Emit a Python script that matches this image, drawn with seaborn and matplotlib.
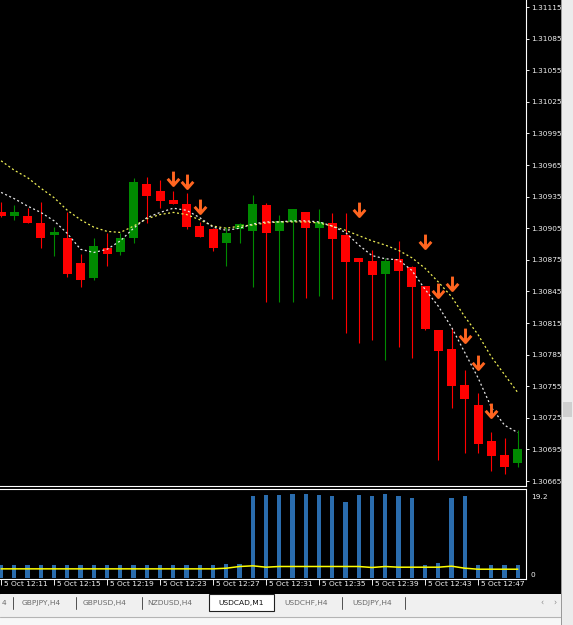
import numpy as np
import pandas as pd
import seaborn as sns
import matplotlib.pyplot as plt
import matplotlib.transforms as mtrans
from matplotlib.path import Path
from matplotlib.markers import MarkerStyle
from matplotlib.patches import Rectangle

# ---- data (USDCAD M1, 5 Oct 12:11 - 12:50) ----
opens = [1.30920, 1.30917, 1.30917, 1.30910, 1.30899, 1.30896, 1.30872, 1.30858, 1.30886, 1.30882,
         1.30896, 1.30947, 1.30940, 1.30932, 1.30928, 1.30907, 1.30904, 1.30891, 1.30904, 1.30902,
         1.30927, 1.30902, 1.30911, 1.30920, 1.30905, 1.30910, 1.30899, 1.30877, 1.30874, 1.30862,
         1.30876, 1.30868, 1.30850, 1.30808, 1.30790, 1.30756, 1.30737, 1.30703, 1.30690, 1.30682]
highs = [1.30930, 1.30927, 1.30924, 1.30930, 1.30906, 1.30920, 1.30881, 1.30896, 1.30900, 1.30900,
         1.30953, 1.30954, 1.30951, 1.30940, 1.30938, 1.30911, 1.30905, 1.30906, 1.30910, 1.30937,
         1.30929, 1.30918, 1.30923, 1.30920, 1.30923, 1.30919, 1.30919, 1.30877, 1.30884, 1.30877,
         1.30893, 1.30869, 1.30850, 1.30808, 1.30810, 1.30770, 1.30749, 1.30712, 1.30706, 1.30713]
lows = [1.30916, 1.30913, 1.30910, 1.30886, 1.30879, 1.30859, 1.30849, 1.30856, 1.30869, 1.30880,
        1.30891, 1.30910, 1.30924, 1.30928, 1.30904, 1.30897, 1.30883, 1.30869, 1.30891, 1.30849,
        1.30835, 1.30835, 1.30835, 1.30839, 1.30841, 1.30838, 1.30806, 1.30796, 1.30799, 1.30780,
        1.30792, 1.30782, 1.30808, 1.30685, 1.30734, 1.30692, 1.30692, 1.30675, 1.30672, 1.30678]
closes = [1.30917, 1.30920, 1.30910, 1.30896, 1.30901, 1.30862, 1.30856, 1.30888, 1.30881, 1.30896,
          1.30949, 1.30936, 1.30931, 1.30928, 1.30906, 1.30897, 1.30886, 1.30900, 1.30909, 1.30928,
          1.30900, 1.30912, 1.30923, 1.30905, 1.30911, 1.30895, 1.30873, 1.30873, 1.30861, 1.30874,
          1.30864, 1.30849, 1.30809, 1.30788, 1.30755, 1.30743, 1.30700, 1.30689, 1.30678, 1.30695]

ma_slow = [1.30969, 1.30960, 1.30953, 1.30943, 1.30934, 1.30922, 1.30913, 1.30906, 1.30902, 1.30901,
           1.30907, 1.30914, 1.30918, 1.30920, 1.30918, 1.30913, 1.30907, 1.30905, 1.30907, 1.30908,
           1.30910, 1.30911, 1.30911, 1.30911, 1.30910, 1.30907, 1.30903, 1.30898, 1.30893, 1.30889,
           1.30884, 1.30877, 1.30867, 1.30854, 1.30840, 1.30821, 1.30804, 1.30783, 1.30766, 1.30749]
ma_fast = [1.30939, 1.30933, 1.30926, 1.30920, 1.30912, 1.30900, 1.30885, 1.30882, 1.30885, 1.30893,
           1.30905, 1.30915, 1.30920, 1.30924, 1.30922, 1.30915, 1.30906, 1.30903, 1.30905, 1.30909,
           1.30911, 1.30911, 1.30912, 1.30912, 1.30911, 1.30907, 1.30901, 1.30889, 1.30879, 1.30876,
           1.30875, 1.30865, 1.30847, 1.30831, 1.30811, 1.30787, 1.30763, 1.30735, 1.30718, 1.30711]

arrow_bars = [13, 14, 15, 27, 32, 33, 34, 35, 36, 37]
arrow_prices = [1.30946, 1.30943, 1.30919, 1.30917, 1.30886, 1.30840, 1.30846, 1.30797, 1.30771, 1.30726]

volumes = [3.1, 3.1, 3.1, 3.1, 3.1, 3.1, 3.1, 3.1, 3.1, 3.1,
           3.1, 3.1, 3.1, 3.1, 3.1, 3.1, 3.1, 3.3, 3.3, 18.8,
           19.0, 19.0, 19.2, 19.2, 19.0, 18.7, 17.3, 19.0, 18.7, 19.2,
           18.8, 18.4, 3.1, 3.5, 18.4, 18.8, 3.1, 3.1, 3.1, 3.1]
vol_signal = [2.15, 2.15, 2.15, 2.15, 2.15, 2.15, 2.15, 2.15, 2.15, 2.15,
              2.15, 2.15, 2.15, 2.15, 2.15, 2.15, 2.15, 2.30, 2.69, 2.84,
              2.53, 2.69, 2.69, 2.69, 2.69, 2.69, 2.69, 2.69, 2.46, 2.69,
              2.53, 2.53, 2.53, 2.53, 2.76, 2.30, 2.07, 2.07, 2.07, 2.07]

price_ticks = [1.30665, 1.30695, 1.30725, 1.30755, 1.30785, 1.30815, 1.30845, 1.30875,
               1.30905, 1.30935, 1.30965, 1.30995, 1.31025, 1.31055, 1.31085, 1.31115]
time_bars = [0, 4, 8, 12, 16, 20, 24, 28, 32, 36]
time_labels = ['5 Oct 12:11', '5 Oct 12:15', '5 Oct 12:19', '5 Oct 12:23', '5 Oct 12:27',
               '5 Oct 12:31', '5 Oct 12:35', '5 Oct 12:39', '5 Oct 12:43', '5 Oct 12:47']
vol_ticks = [0, 19.2]
vol_tick_labels = ['0', '19.2']
tab_names = ['4', 'GBPJPY,H4', 'GBPUSD,H4', 'NZDUSD,H4', 'USDCAD,M1', 'USDCHF,H4', 'USDJPY,H4']
active_tab = 'USDCAD,M1'

# ---- style ----
sns.set_theme(style='dark')
plt.rcParams['font.family'] = ['DejaVu Sans']
plt.rcParams['axes.facecolor'] = 'black'

W, H = 573, 625
fig = plt.figure(figsize=(W / 100, H / 100), dpi=100, facecolor='black')


def px_axes(x0, y0, x1, y1):
    return fig.add_axes([x0 / W, 1 - y1 / H, (x1 - x0) / W, (y1 - y0) / H])


df = pd.DataFrame({'bar': np.arange(len(opens)), 'open': opens, 'high': highs,
                   'low': lows, 'close': closes, 'ma_fast': ma_fast, 'ma_slow': ma_slow,
                   'volume': volumes, 'signal': vol_signal})
df['up'] = df['close'] >= df['open']
bull, bear = '#008a00', '#ff0000'
candle_colors = np.where(df['up'], bull, bear)
xlim = (-0.083, 39.62)

# ---- main price panel ----
ax = px_axes(0, 0, 526, 486)
ax.set_facecolor('black')
ax.vlines(df['bar'], df['low'], df['high'], colors=candle_colors, lw=0.8, zorder=2)
body_lo = np.minimum(df['open'], df['close'])
body_h = np.maximum(np.abs(df['close'] - df['open']), 0.000012)
ax.bar(df['bar'], body_h, bottom=body_lo, width=0.68, color=candle_colors, linewidth=0, zorder=3)

sns.lineplot(data=df, x='bar', y='ma_slow', ax=ax, color='#eeee55', linewidth=0.9,
             linestyle=(0, (1.6, 2.0)), zorder=4)
sns.lineplot(data=df, x='bar', y='ma_fast', ax=ax, color='#e6e6e6', linewidth=0.9,
             linestyle=(0, (1.6, 2.0)), zorder=4)

arrow_path = Path([(0, 0), (0, 1), (-0.42, 0.48), (0, 0), (0.42, 0.48)],
                  [Path.MOVETO, Path.LINETO, Path.MOVETO, Path.LINETO, Path.LINETO])
ax.plot(arrow_bars, arrow_prices, ls='none',
        marker=MarkerStyle(arrow_path, capstyle='butt', joinstyle='miter'),
        ms=20, mew=2.1, mec='#ff6520', mfc='none', zorder=5)

ax.set_xlim(*xlim)
ax.set_ylim(1.306603, 1.3112165)
ax.yaxis.tick_right()
ax.set_yticks(price_ticks)
ax.set_yticklabels([f'{p:.5f}' for p in price_ticks])
ax.tick_params(axis='y', colors='#f0f0f0', length=2.2, width=0.7, labelsize=5.3, pad=1.5,
               right=True, left=False)
ax.set_xticks([])
ax.set_xlabel('')
ax.set_ylabel('')
for side in ['top', 'left']:
    ax.spines[side].set_visible(False)
for side in ['right', 'bottom']:
    ax.spines[side].set_visible(True)
    ax.spines[side].set_color('white')
    ax.spines[side].set_linewidth(0.8)
ax.grid(False)

# ---- volume panel ----
vax = px_axes(0, 489, 526, 579)
vax.set_facecolor('black')
sns.barplot(data=df, x='bar', y='volume', native_scale=True, color='#2a6cad', saturation=1,
            width=0.32, errorbar=None, ax=vax, linewidth=0)
sns.lineplot(data=df, x='bar', y='signal', ax=vax, color='#ffff00', linewidth=1.1)
vax.set_xlim(*xlim)
vax.set_ylim(-0.16, 20.35)
vax.yaxis.tick_right()
vax.set_yticks(vol_ticks)
vax.set_yticklabels(vol_tick_labels)
vax.tick_params(axis='y', colors='#f0f0f0', length=0, labelsize=5.3, pad=3.5,
                right=True, left=False)
vax.get_yticklabels()[0].set_va('bottom')
vax.get_yticklabels()[1].set_va('top')
vax.set_xticks(time_bars)
vax.set_xticklabels(time_labels)
vax.tick_params(axis='x', colors='#f0f0f0', length=4, width=0.7, labelsize=5.4, pad=-2.2,
                bottom=True, direction='out')
shift = mtrans.ScaledTranslation(2.5 / 100, 0, fig.dpi_scale_trans)
for lab in vax.get_xticklabels():
    lab.set_ha('left')
    lab.set_transform(lab.get_transform() + shift)
vax.set_xlabel('')
vax.set_ylabel('')
vax.spines['left'].set_visible(False)
for side in ['top', 'right', 'bottom']:
    vax.spines[side].set_visible(True)
    vax.spines[side].set_color('white')
    vax.spines[side].set_linewidth(0.8)
vax.grid(False)

# ---- tab bar ----
tab = px_axes(0, 594, 573, 625)
tab.set_facecolor('#f0f0f0')
tab.set_xlim(0, W)
tab.set_ylim(H, 594)
tab.axis('off')
tab.add_patch(Rectangle((0, 594), W, 31, color='#f0f0f0', zorder=0))
tab.add_patch(Rectangle((0, 617), W, 8, color='#f7f7f7', zorder=0))
tab.plot([0, W], [616.5, 616.5], color='#b4b4b4', lw=0.8)
tab.add_patch(Rectangle((209, 594), 65, 17, facecolor='white', edgecolor='#202020', lw=0.8, zorder=2))
tab_centers = [4, 41, 104.5, 170, 241, 306.5, 372.5]
for name, cx in zip(tab_names, tab_centers):
    tab.text(cx, 603, name, ha='center', va='center', fontsize=5.4,
             color='#111111' if name == active_tab else '#6a6a6a', zorder=3)
for sx in [13, 76, 141.5, 341.5, 405]:
    tab.plot([sx, sx], [597, 609], color='#505050', lw=0.7)
tab.text(541.5, 603, '‹', ha='center', va='center', fontsize=5.5, color='#888888')
tab.text(555, 603, '›', ha='center', va='center', fontsize=5.5, color='#888888')

# ---- right scrollbar strip ----
fig.add_artist(Rectangle((561 / W, 0), 12 / W, 1, transform=fig.transFigure,
                         facecolor='#ececec', edgecolor='none'))
fig.add_artist(Rectangle((561 / W, 0), 0.8 / W, 1, transform=fig.transFigure,
                         facecolor='#9a9a9a', edgecolor='none'))
fig.add_artist(Rectangle((563 / W, 1 - 417 / H), 9 / W, 15 / H, transform=fig.transFigure,
                         facecolor='#cfcfcf', edgecolor='none'))

fig.savefig('out.png', dpi=100, facecolor='black')
